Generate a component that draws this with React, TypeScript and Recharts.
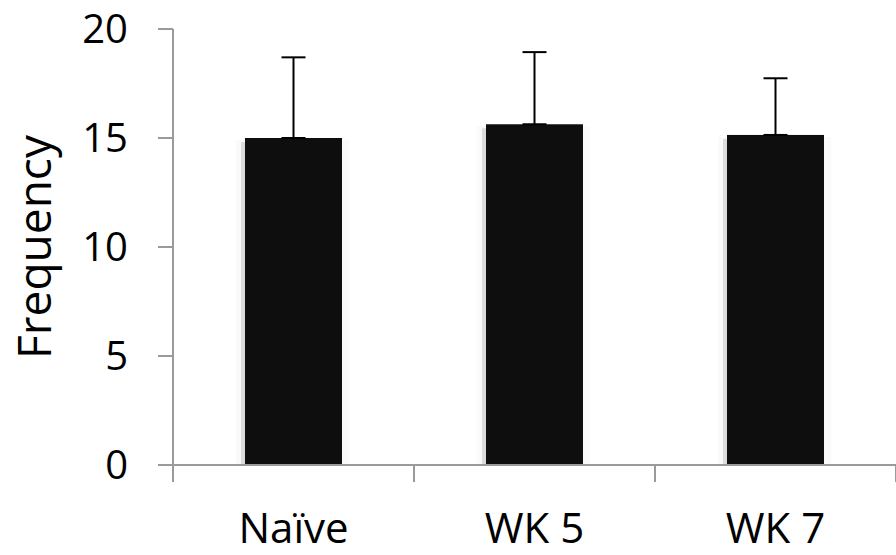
import React from 'react';
import { BarChart, Bar, XAxis, YAxis, ErrorBar } from 'recharts';

const groups = ['Naïve', 'WK 5', 'WK 7'];
const means = [15.0, 15.63, 15.14];
const upperErrors = [3.7, 3.31, 2.6];
const yTicks = [0, 5, 10, 15, 20];
const boundaryTicks = [0, 1, 2, 3];

const data = groups.map((name, i) => ({
  name,
  pos: i + 0.5,
  mean: means[i],
  err: [0, upperErrors[i]],
}));

const axisGray = '#9a9a9a';
const font = '"Open Sans", sans-serif';

// bar with the faint drop shadow Excel leaves on the left
const ShadowBar = (props: any) => {
  const { x, y, width, height } = props;
  return (
    <g>
      <rect x={x - 9} y={y + 2} width={width + 16} height={height - 2} fill="#fafafa" />
      <rect x={x - 4} y={y + 4} width={4} height={height - 4} fill="#dcdcdc" />
      <rect x={x} y={y} width={width} height={height} fill="#0e0e0e" />
    </g>
  );
};

const NoLabel = () => <g />;

export default function App() {
  return (
    <div style={{ position: 'absolute', left: 0, top: 0, background: '#fff' }}>
      <BarChart
        width={896}
        height={555}
        data={data}
        margin={{ top: 29, right: 0, left: 0, bottom: 0 }}
        barCategoryGap={0}
      >
        <XAxis
          xAxisId="bounds"
          dataKey="pos"
          type="number"
          domain={[0, 3]}
          allowDataOverflow
          ticks={boundaryTicks}
          interval={0}
          tick={<NoLabel />}
          tickSize={17}
          height={18}
          axisLine={{ stroke: axisGray, strokeWidth: 2 }}
          tickLine={{ stroke: axisGray, strokeWidth: 2 }}
        />
        <XAxis
          xAxisId="cat"
          dataKey="name"
          axisLine={false}
          tickLine={false}
          tickSize={0}
          tickMargin={30}
          height={72}
          interval={0}
          tick={{ fill: '#000', fontSize: 42, fontFamily: font }}
        />
        <YAxis
          domain={[0, 20]}
          ticks={yTicks}
          width={173}
          tickSize={15}
          tickMargin={30}
          axisLine={{ stroke: axisGray, strokeWidth: 2 }}
          tickLine={{ stroke: axisGray, strokeWidth: 2 }}
          tick={{ fill: '#000', fontSize: 40, fontFamily: font }}
          label={{
            value: 'Frequency',
            angle: -90,
            position: 'insideLeft',
            offset: 35,
            textAnchor: 'middle',
            fill: '#000',
            fontSize: 46,
            fontFamily: font,
          }}
        />
        <Bar
          xAxisId="cat"
          dataKey="mean"
          barSize={97}
          shape={<ShadowBar />}
          isAnimationActive={false}
        >
          <ErrorBar dataKey="err" direction="y" width={12} stroke="#000" strokeWidth={2} isAnimationActive={false} />
        </Bar>
      </BarChart>
    </div>
  );
}
